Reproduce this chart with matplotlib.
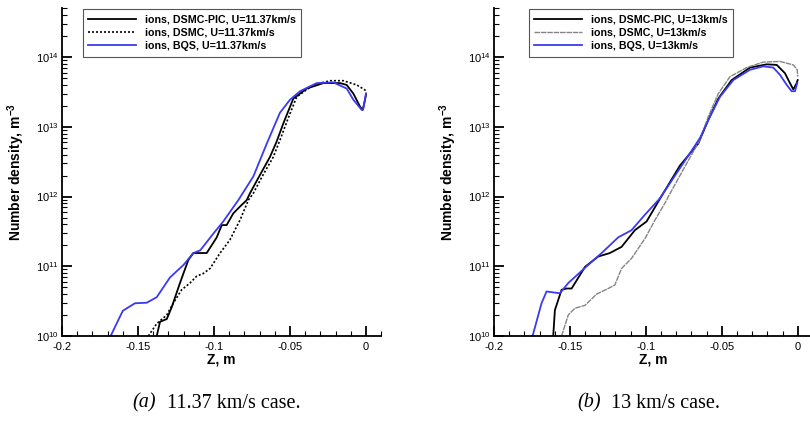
import matplotlib
matplotlib.use("Agg")
import matplotlib.pyplot as plt
from matplotlib.ticker import FixedLocator, MultipleLocator, LogLocator, FuncFormatter, NullFormatter
import numpy as np

plt.rcParams['font.family'] = ['Liberation Sans', 'DejaVu Sans']
plt.rcParams['mathtext.fontset'] = 'custom'
plt.rcParams['mathtext.rm'] = 'Liberation Sans'
plt.rcParams['mathtext.bf'] = 'Liberation Sans:bold'
plt.rcParams['mathtext.it'] = 'Liberation Sans:italic'

# ---------------- data: panel (a) U = 11.37 km/s ----------------
a_pic_z = [-0.1377, -0.1355, -0.1311, -0.1278, -0.1224, -0.1169, -0.1136, -0.1048, -0.0982,
           -0.0949, -0.0917, -0.0873, -0.0829, -0.0785, -0.0763, -0.0700, -0.0632, -0.0590,
           -0.0544, -0.0478, -0.0390, -0.0281, -0.0171, -0.0127, -0.0083, -0.0039, -0.0022, -0.0007, 0.0]
a_pic_n = [1.0e10, 1.6e10, 1.75e10, 2.6e10, 5.75e10, 1.23e11, 1.55e11, 1.55e11, 2.6e11,
           3.9e11, 3.9e11, 5.75e11, 7.2e11, 8.9e11, 1.12e12, 2.0e12, 3.7e12, 6.0e12,
           1.12e13, 2.55e13, 3.55e13, 4.25e13, 4.25e13, 4.0e13, 3.0e13, 1.95e13, 1.75e13, 2.4e13, 2.9e13]

a_dsmc_z = [-0.1432, -0.1377, -0.1311, -0.1268, -0.1213, -0.1158, -0.1114, -0.1070, -0.1026,
            -0.0960, -0.0895, -0.0829, -0.0774, -0.0741, -0.0680, -0.0610, -0.0560, -0.0522,
            -0.0456, -0.0346, -0.0237, -0.0149, -0.0061, -0.0007, 0.0]
a_dsmc_n = [1.0e10, 1.5e10, 2.0e10, 2.95e10, 4.6e10, 5.75e10, 7.2e10, 7.9e10, 9.3e10,
            1.55e11, 2.4e11, 4.6e11, 8.9e11, 1.12e12, 2.0e12, 3.7e12, 7.0e12, 1.17e13,
            2.7e13, 4.0e13, 4.6e13, 4.6e13, 4.0e13, 3.4e13, 3.0e13]

a_bqs_z = [-0.1680, -0.1600, -0.1520, -0.1443, -0.1377, -0.1290, -0.1200, -0.1136, -0.1090,
           -0.1004, -0.0939, -0.0840, -0.0741, -0.0653, -0.0566, -0.0500, -0.0434, -0.0324,
           -0.0215, -0.0127, -0.0083, -0.0028, -0.0018, -0.0007, 0.0]
a_bqs_n = [1.0e10, 2.3e10, 2.95e10, 3.0e10, 3.6e10, 6.9e10, 1.05e11, 1.55e11, 1.7e11,
           2.95e11, 4.4e11, 8.9e11, 1.95e12, 5.75e12, 1.6e13, 2.45e13, 3.25e13, 4.25e13,
           4.35e13, 3.55e13, 2.45e13, 1.75e13, 1.8e13, 2.5e13, 3.0e13]

# ---------------- data: panel (b) U = 13 km/s ----------------
b_pic_z = [-0.1610, -0.1599, -0.1555, -0.1522, -0.1489, -0.1401, -0.1314, -0.1237, -0.1160,
           -0.1072, -0.0995, -0.0918, -0.0775, -0.0655, -0.0589, -0.0523, -0.0435, -0.0314,
           -0.0204, -0.0138, -0.0084, -0.0051, -0.0029, -0.0007, 0.0]
b_pic_n = [1.0e10, 2.35e10, 4.6e10, 4.8e10, 4.8e10, 9.8e10, 1.38e11, 1.55e11, 1.9e11,
           3.3e11, 4.4e11, 8.5e11, 2.8e12, 5.75e12, 1.26e13, 2.55e13, 4.7e13, 7.1e13,
           7.9e13, 7.75e13, 5.9e13, 4.25e13, 3.45e13, 4.25e13, 4.7e13]

b_dsmc_z = [-0.1555, -0.1511, -0.1467, -0.1401, -0.1324, -0.1248, -0.1204, -0.1160, -0.1094,
            -0.1006, -0.0940, -0.0863, -0.0852, -0.0731, -0.0644, -0.0589, -0.0523, -0.0446,
            -0.0336, -0.0227, -0.0117, -0.0029, -0.0003, 0.0]
b_dsmc_n = [1.0e10, 2.0e10, 2.5e10, 2.75e10, 4.0e10, 4.8e10, 5.4e10, 9.3e10, 1.3e11,
            2.5e11, 4.6e11, 8.9e11, 1.0e12, 3.0e12, 6.5e12, 1.4e13, 3.0e13, 5.25e13,
            7.1e13, 8.5e13, 8.7e13, 7.75e13, 6.6e13, 5.25e13]

b_bqs_z = [-0.1746, -0.1687, -0.1654, -0.1566, -0.1511, -0.1379, -0.1291, -0.1182, -0.1094,
           -0.1006, -0.0918, -0.0907, -0.0754, -0.0644, -0.0578, -0.0512, -0.0424, -0.0314,
           -0.0227, -0.0161, -0.0117, -0.0072, -0.0040, -0.0018, -0.0003]
b_bqs_n = [1.0e10, 2.95e10, 4.35e10, 4.1e10, 5.75e10, 1.05e11, 1.55e11, 2.6e11, 3.3e11,
           5.5e11, 8.9e11, 9.5e11, 3.0e12, 6.9e12, 1.4e13, 2.7e13, 4.7e13, 6.6e13,
           7.4e13, 7.1e13, 5.6e13, 4.0e13, 3.25e13, 3.25e13, 4.25e13]

labels_a = ["ions, DSMC-PIC, U=11.37km/s", "ions, DSMC, U=11.37km/s", "ions, BQS, U=11.37km/s"]
labels_b = ["ions, DSMC-PIC, U=13km/s", "ions, DSMC, U=13km/s", "ions, BQS, U=13km/s"]
captions = [("(a)", "11.37 km/s case."), ("(b)", "13 km/s case.")]
xticks = [-0.2, -0.15, -0.1, -0.05, 0]
xticklabels = ["-0.2", "-0.15", "-0.1", "-0.05", "0"]

W, H = 810, 424
fig = plt.figure(figsize=(W / 100, H / 100), dpi=100)

BLUE = '#3a3af2'
panels = [
    dict(x0=62, zero=366, data=[(a_pic_z, a_pic_n), (a_dsmc_z, a_dsmc_n), (a_bqs_z, a_bqs_n)],
         labels=labels_a, styles=[dict(color='black', lw=1.3, ls='-'),
                                  dict(color='black', lw=1.2, ls=(0, (1.2, 1.2))),
                                  dict(color=BLUE, lw=1.3, ls='-')],
         leg_x=83, cap=captions[0], cap_x=(132, 167)),
    dict(x0=494, zero=797.7, data=[(b_pic_z, b_pic_n), (b_dsmc_z, b_dsmc_n), (b_bqs_z, b_bqs_n)],
         labels=labels_b, styles=[dict(color='black', lw=1.3, ls='-'),
                                  dict(color='#858585', lw=1.0, ls=(0, (4, 0.6))),
                                  dict(color=BLUE, lw=1.3, ls='-')],
         leg_x=529, cap=captions[1], cap_x=(577, 611)),
]

y_top_px, y_bot_px = 8, 336

def fmt_log(v, pos):
    e = int(round(np.log10(v)))
    return r'$\mathdefault{10^{%d}}$' % e

for p in panels:
    width_px = (p['zero'] - p['x0']) / 0.2 * 0.21
    ax = fig.add_axes([p['x0'] / W, (H - y_bot_px) / H, width_px / W, (y_bot_px - y_top_px) / H])
    for (z, n), st, lab in zip(p['data'], p['styles'], p['labels']):
        ax.plot(z, n, label=lab, solid_joinstyle='round', **st)
    ax.set_yscale('log')
    ax.set_xlim(-0.2, 0.01)
    ax.set_ylim(1e10, 5.08e14)
    for s in ['top', 'right']:
        ax.spines[s].set_visible(False)
    for s in ['left', 'bottom']:
        ax.spines[s].set_linewidth(1.3)
    ax.xaxis.set_major_locator(FixedLocator(xticks))
    ax.set_xticklabels(xticklabels)
    ax.xaxis.set_minor_locator(MultipleLocator(0.01))
    ax.yaxis.set_major_locator(LogLocator(base=10, numticks=20))
    ax.yaxis.set_minor_locator(LogLocator(base=10, subs=np.arange(2, 10), numticks=20))
    ax.yaxis.set_major_formatter(FuncFormatter(fmt_log))
    ax.yaxis.set_minor_formatter(NullFormatter())
    ax.tick_params(which='major', direction='in', length=7, width=1.3, labelsize=8)
    ax.tick_params(which='minor', direction='in', length=3.5, width=0.8)
    ax.tick_params(axis='x', which='major', pad=4)
    ax.tick_params(axis='y', which='major', pad=2)
    ax.set_xlabel('Z, m', fontsize=10, fontweight='bold')
    ax.set_ylabel(r'Number density, m$^{\mathbf{-3}}$', fontsize=10, fontweight='bold')
    ax.xaxis.set_label_coords(0.5, -(352 - y_bot_px) / (y_bot_px - y_top_px))
    ax.yaxis.set_label_coords(-(62 - 27) / width_px, 0.5)
    leg = ax.legend(loc='upper left', bbox_to_anchor=(p['leg_x'] / W, (H - 9) / H),
                    bbox_transform=fig.transFigure, borderaxespad=0, frameon=True,
                    fancybox=False, edgecolor='#555555', framealpha=1,
                    prop=dict(family='Liberation Sans', weight='bold', size=7.7),
                    handlelength=4.5, handletextpad=0.8, labelspacing=0.32, borderpad=0.5)
    leg.get_frame().set_linewidth(0.8)
    # caption
    fig.text(p['cap_x'][0] / W, (H - 403) / H, p['cap'][0], fontsize=14.5,
             family='Liberation Serif', style='italic', va='center', ha='left')
    fig.text(p['cap_x'][1] / W, (H - 403) / H, p['cap'][1], fontsize=14.5,
             family='Liberation Serif', va='center', ha='left')

fig.savefig('out.png', dpi=100)
